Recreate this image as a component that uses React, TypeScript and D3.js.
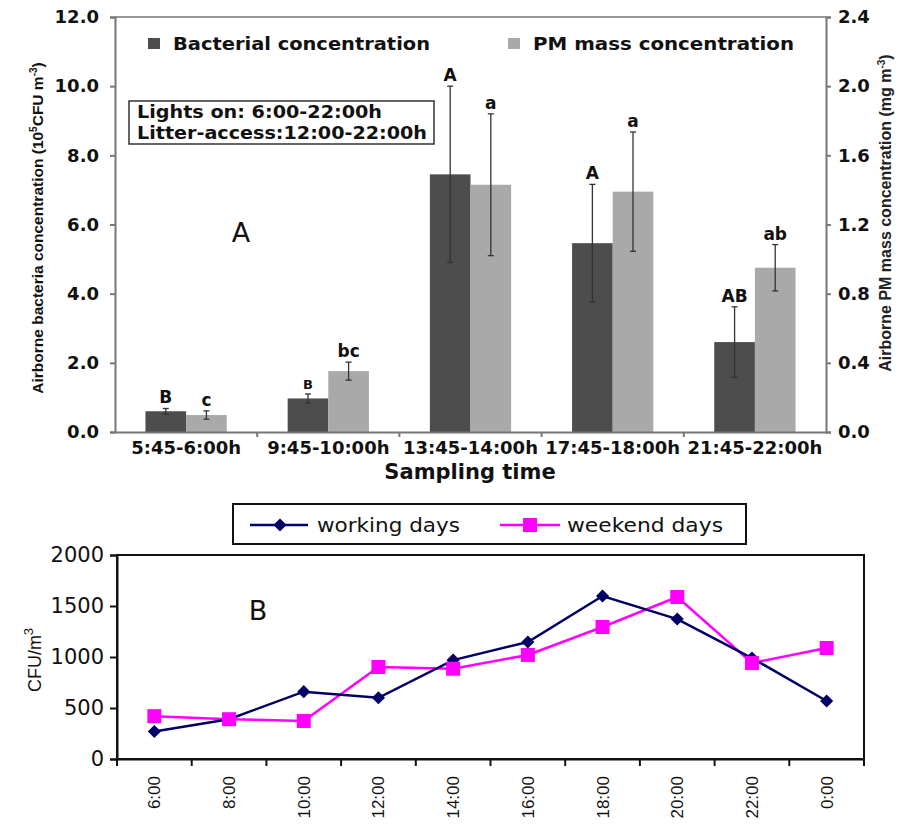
import React, { useEffect, useRef } from "react";
import * as d3 from "d3";

// panel A: sampling periods
const periods = ["5:45-6:00h", "9:45-10:00h", "13:45-14:00h", "17:45-18:00h", "21:45-22:00h"];
const bacteria = [0.6, 0.97, 7.45, 5.46, 2.6];
const bacteriaErr = [0.08, 0.13, 2.55, 1.7, 1.02];
const pmMass = [0.098, 0.352, 1.43, 1.39, 0.95];
const pmErr = [0.024, 0.052, 0.41, 0.345, 0.134];
const bacteriaLetters = ["B", "B", "A", "A", "AB"];
const pmLetters = ["c", "bc", "a", "a", "ab"];
const leftTicks = [0, 2, 4, 6, 8, 10, 12];
const rightTicks = [0, 0.4, 0.8, 1.2, 1.6, 2.0, 2.4];

// panel B: hourly counts
const hours = ["6:00", "8:00", "10:00", "12:00", "14:00", "16:00", "18:00", "20:00", "22:00", "0:00"];
const workingDays = [270, 390, 660, 600, 970, 1147, 1598, 1372, 990, 569];
const weekendDays = [420, 390, 373, 902, 885, 1020, 1294, 1588, 941, 1088];
const cfuTicks = [0, 500, 1000, 1500, 2000];

const DARK = "#4d4d4d";
const LIGHT = "#a9a9a9";
const NAVY = "#000066";
const MAGENTA = "#ff00ff";
const WIDE = "DejaVu Sans, Verdana, sans-serif";
const NARROW = "Liberation Sans, Arial, sans-serif";

export default function App() {
  const ref = useRef<SVGSVGElement>(null);

  useEffect(() => {
    const svg = d3.select(ref.current).attr("width", 904).attr("height", 824);
    svg.selectAll("*").remove();
    svg.attr("font-family", WIDE);

    // ---------------- panel A ----------------
    const a = { left: 115, right: 826, top: 17, bottom: 432 };
    const x = d3.scaleBand().domain(periods).range([a.left, a.right]);
    const inner = d3.scaleBand().domain(["bac", "pm"]).range([0, x.bandwidth()]).paddingOuter(0.75);
    const yL = d3.scaleLinear().domain([0, 12]).range([a.bottom, a.top]);
    const yR = d3.scaleLinear().domain([0, 2.4]).range([a.bottom, a.top]);

    const gA = svg.append("g");

    gA.append("line").attr("x1", a.left).attr("x2", a.right).attr("y1", a.top).attr("y2", a.top)
      .attr("stroke", "#777").attr("stroke-width", 1.5);

    const rows = periods.map((p, i) => ({
      p, i, bac: bacteria[i], bacE: bacteriaErr[i], pm: pmMass[i], pmE: pmErr[i],
    }));

    // bars
    gA.selectAll(".bac").data(rows).join("rect")
      .attr("x", (d) => x(d.p)! + inner("bac")!)
      .attr("y", (d) => yL(d.bac))
      .attr("width", inner.bandwidth())
      .attr("height", (d) => yL(0) - yL(d.bac))
      .attr("fill", DARK);
    gA.selectAll(".pm").data(rows).join("rect")
      .attr("x", (d) => x(d.p)! + inner("pm")!)
      .attr("y", (d) => yR(d.pm))
      .attr("width", inner.bandwidth())
      .attr("height", (d) => yR(0) - yR(d.pm))
      .attr("fill", LIGHT);

    // error bars + letters
    const errs = rows.flatMap((d) => [
      { cx: x(d.p)! + inner("bac")! + inner.bandwidth() / 2, lo: yL(d.bac - d.bacE), hi: yL(d.bac + d.bacE), lab: bacteriaLetters[d.i], small: d.i === 1 },
      { cx: x(d.p)! + inner("pm")! + inner.bandwidth() / 2, lo: yR(d.pm - d.pmE), hi: yR(d.pm + d.pmE), lab: pmLetters[d.i], small: false },
    ]);
    const eg = gA.selectAll(".err").data(errs).join("g").attr("stroke", "#333").attr("stroke-width", 1.3);
    eg.append("line").attr("x1", (d) => d.cx).attr("x2", (d) => d.cx).attr("y1", (d) => d.lo).attr("y2", (d) => d.hi);
    eg.append("line").attr("x1", (d) => d.cx - 3).attr("x2", (d) => d.cx + 3).attr("y1", (d) => d.lo).attr("y2", (d) => d.lo);
    eg.append("line").attr("x1", (d) => d.cx - 3).attr("x2", (d) => d.cx + 3).attr("y1", (d) => d.hi).attr("y2", (d) => d.hi);
    gA.selectAll(".lab").data(errs).join("text")
      .attr("x", (d) => d.cx).attr("y", (d) => d.hi - 5)
      .attr("text-anchor", "middle").attr("font-weight", 700)
      .attr("font-size", (d) => (d.small ? 13 : 17)).attr("fill", "#111")
      .text((d) => d.lab);

    // axes
    const axL = gA.append("g").attr("transform", `translate(${a.left},0)`)
      .call(d3.axisLeft(yL).tickValues(leftTicks).tickSize(5).tickFormat(d3.format(".1f")));
    const axR = gA.append("g").attr("transform", `translate(${a.right},0)`)
      .call(d3.axisRight(yR).tickValues(rightTicks).tickSize(5).tickFormat(d3.format(".1f")));
    const axB = gA.append("g").attr("transform", `translate(0,${a.bottom})`)
      .call(d3.axisBottom(x).tickSize(0).tickPadding(9));
    [axL, axR, axB].forEach((ax) => {
      ax.select(".domain").attr("stroke", "#777").attr("stroke-width", 2);
      ax.selectAll(".tick line").attr("stroke", "#777").attr("stroke-width", 2);
      ax.selectAll("text").attr("font-family", WIDE).attr("font-weight", 700).attr("font-size", 18).attr("fill", "#111");
    });
    axL.selectAll("text").attr("x", -16);
    axR.selectAll("text").attr("x", 12);
    axB.selectAll("text").attr("y", 22).attr("dy", 0);
    gA.selectAll(".sep").data(periods.slice(1)).join("line")
      .attr("x1", (d) => x(d)!).attr("x2", (d) => x(d)!)
      .attr("y1", a.bottom).attr("y2", a.bottom + 5)
      .attr("stroke", "#777").attr("stroke-width", 2);

    gA.append("text").attr("x", 470).attr("y", 479).attr("text-anchor", "middle")
      .attr("font-weight", 700).attr("font-size", 21).attr("fill", "#111").text("Sampling time");

    const tL = gA.append("text").attr("transform", `translate(43,228) rotate(-90)`)
      .attr("font-family", NARROW).attr("text-anchor", "middle").attr("font-weight", 700).attr("font-size", 15.5).attr("fill", "#111");
    tL.append("tspan").text("Airborne bacteria concentration (10");
    tL.append("tspan").attr("font-size", 10).attr("dy", -6).text("5");
    tL.append("tspan").attr("dy", 6).text("CFU m");
    tL.append("tspan").attr("font-size", 10).attr("dy", -6).text("-3");
    tL.append("tspan").attr("dy", 6).text(")");

    const tR = gA.append("text").attr("transform", `translate(891,213) rotate(-90)`)
      .attr("font-family", NARROW).attr("text-anchor", "middle").attr("font-weight", 700).attr("font-size", 16).attr("fill", "#222");
    tR.append("tspan").text("Airborne PM mass concentration (mg m");
    tR.append("tspan").attr("font-size", 10).attr("dy", -6).text("-3");
    tR.append("tspan").attr("dy", 6).text(")");

    // legend A
    const legA = [
      { label: "Bacterial concentration", color: DARK, x: 148, w: 257 },
      { label: "PM mass concentration", color: LIGHT, x: 508, w: 261 },
    ];
    const lg = gA.selectAll(".leg").data(legA).join("g");
    lg.append("rect").attr("x", (d) => d.x).attr("y", 38).attr("width", 12).attr("height", 11).attr("fill", (d) => d.color);
    lg.append("text").attr("x", (d) => d.x + 25).attr("y", 50).attr("font-weight", 700).attr("font-size", 18)
      .attr("textLength", (d) => d.w).attr("lengthAdjust", "spacingAndGlyphs")
      .attr("fill", "#111").text((d) => d.label);

    // note box
    gA.append("rect").attr("x", 129).attr("y", 101).attr("width", 305).attr("height", 43)
      .attr("fill", "white").attr("stroke", "#333").attr("stroke-width", 1.5);
    gA.append("text").attr("x", 137).attr("y", 118).attr("font-weight", 700).attr("font-size", 17.5).attr("fill", "#111")
      .attr("textLength", 245).attr("lengthAdjust", "spacingAndGlyphs")
      .text("Lights on: 6:00-22:00h");
    gA.append("text").attr("x", 137).attr("y", 139).attr("font-weight", 700).attr("font-size", 17.5).attr("fill", "#111")
      .attr("textLength", 290).attr("lengthAdjust", "spacingAndGlyphs")
      .text("Litter-access:12:00-22:00h");

    gA.append("text").attr("x", 241).attr("y", 242).attr("text-anchor", "middle").attr("font-size", 27)
      .attr("fill", "#111").text("A");

    // ---------------- panel B ----------------
    const b = { left: 117, right: 864, top: 555, bottom: 759 };
    const xb = d3.scaleBand().domain(hours).range([b.left, b.right]);
    const yb = d3.scaleLinear().domain([0, 2000]).range([b.bottom, b.top]);
    const gB = svg.append("g");

    gB.append("rect").attr("x", b.left).attr("y", b.top).attr("width", b.right - b.left).attr("height", b.bottom - b.top)
      .attr("fill", "none").attr("stroke", "#111").attr("stroke-width", 2);

    const ayb = gB.append("g").attr("transform", `translate(${b.left},0)`)
      .call(d3.axisLeft(yb).tickValues(cfuTicks).tickSize(7).tickPadding(6).tickFormat(d3.format("d")));
    const axb = gB.append("g").attr("transform", `translate(0,${b.bottom})`)
      .call(d3.axisBottom(xb).tickSize(0).tickFormat(() => ""));
    [ayb, axb].forEach((ax) => {
      ax.select(".domain").attr("stroke", "#111").attr("stroke-width", 2);
      ax.selectAll(".tick line").attr("stroke", "#111").attr("stroke-width", 2);
      ax.selectAll("text").attr("font-family", WIDE).attr("font-size", 21).attr("fill", "#111");
    });
    gB.selectAll(".bt").data([...hours.map((h) => xb(h)!), b.right]).join("line")
      .attr("x1", (d) => d).attr("x2", (d) => d).attr("y1", b.bottom).attr("y2", b.bottom + 7)
      .attr("stroke", "#111").attr("stroke-width", 2);
    gB.selectAll(".hl").data(hours).join("text")
      .attr("font-family", NARROW)
      .attr("transform", (d) => `translate(${xb(d)! + xb.bandwidth() / 2},776) rotate(-90)`)
      .attr("text-anchor", "end").attr("dy", "0.35em").attr("font-size", 17).attr("fill", "#111")
      .text((d) => d);

    const cx = (i: number) => xb(hours[i])! + xb.bandwidth() / 2;
    const line = d3.line<number>().x((_, i) => cx(i)).y((d) => yb(d));

    gB.append("path").attr("d", line(weekendDays)).attr("fill", "none").attr("stroke", MAGENTA).attr("stroke-width", 2.5);
    gB.append("path").attr("d", line(workingDays)).attr("fill", "none").attr("stroke", NAVY).attr("stroke-width", 2.5);
    gB.selectAll(".wk").data(workingDays).join("path")
      .attr("d", d3.symbol(d3.symbolDiamond2, 110)())
      .attr("transform", (d, i) => `translate(${cx(i)},${yb(d)})`)
      .attr("fill", NAVY);
    gB.selectAll(".we").data(weekendDays).join("rect")
      .attr("x", (d, i) => cx(i) - 7).attr("y", (d) => yb(d) - 7).attr("width", 14).attr("height", 14)
      .attr("fill", MAGENTA);

    const tB = gB.append("text").attr("transform", `translate(41,660) rotate(-90)`)
      .attr("font-family", NARROW).attr("text-anchor", "middle").attr("font-size", 18).attr("fill", "#111");
    tB.append("tspan").text("CFU/m");
    tB.append("tspan").attr("font-size", 13).attr("dy", -8).text("3");

    gB.append("text").attr("x", 258).attr("y", 620).attr("text-anchor", "middle").attr("font-size", 27)
      .attr("fill", "#111").text("B");

    // legend B
    gB.append("rect").attr("x", 233).attr("y", 504).attr("width", 513).attr("height", 40)
      .attr("fill", "white").attr("stroke", "#111").attr("stroke-width", 2);
    gB.append("line").attr("x1", 250).attr("x2", 308).attr("y1", 525).attr("y2", 525).attr("stroke", NAVY).attr("stroke-width", 2.5);
    gB.append("path").attr("d", d3.symbol(d3.symbolDiamond2, 110)()).attr("transform", "translate(280,525)").attr("fill", NAVY);
    gB.append("text").attr("x", 317).attr("y", 532).attr("font-size", 20).attr("fill", "#111")
      .attr("textLength", 143).attr("lengthAdjust", "spacingAndGlyphs").text("working days");
    gB.append("line").attr("x1", 500).attr("x2", 560).attr("y1", 525).attr("y2", 525).attr("stroke", MAGENTA).attr("stroke-width", 2.5);
    gB.append("rect").attr("x", 523).attr("y", 518).attr("width", 14).attr("height", 14).attr("fill", MAGENTA);
    gB.append("text").attr("x", 567).attr("y", 532).attr("font-size", 20).attr("fill", "#111")
      .attr("textLength", 156).attr("lengthAdjust", "spacingAndGlyphs").text("weekend days");
  }, []);

  return <svg ref={ref} style={{ position: "absolute", left: 0, top: 0, background: "white" }} />;
}
